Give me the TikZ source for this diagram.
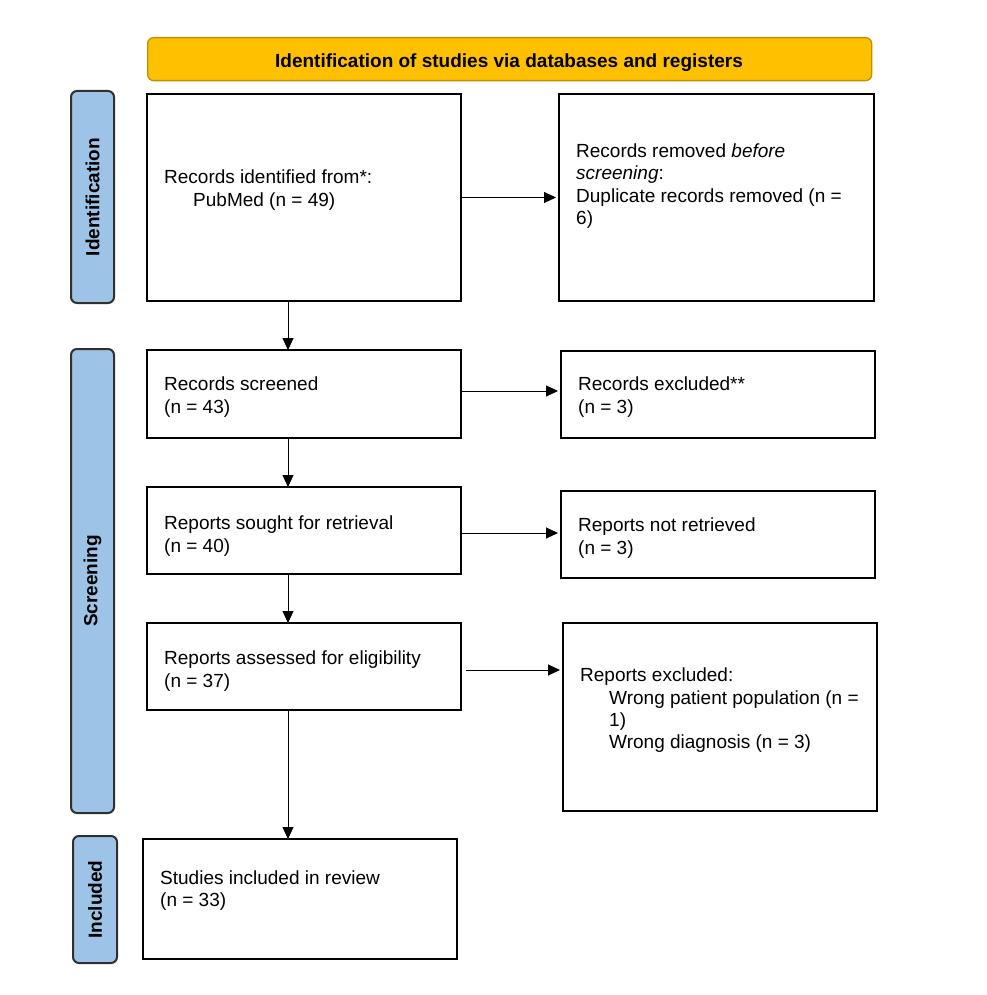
\documentclass[tikz,border=0pt]{standalone}
\usepackage{fontspec}
\setmainfont{Liberation Sans}
\usetikzlibrary{arrows.meta}
\definecolor{headfill}{HTML}{FFC000}
\definecolor{headborder}{HTML}{BF9000}
\definecolor{sideblue}{HTML}{9DC3E6}
\definecolor{sideborder}{HTML}{303030}
\begin{document}
\begin{tikzpicture}[x=1pt,y=-1pt,
  box/.style={draw=black, line width=1.3pt, fill=white, inner sep=0pt, outer sep=0pt, anchor=north west},
  txt/.style={anchor=base west, inner sep=0pt, font=\fontsize{19}{22}\selectfont},
  side/.style={draw=sideborder, line width=2pt, fill=sideblue, rounded corners=6pt, inner sep=0pt, outer sep=0pt, anchor=north west},
  sidetxt/.style={rotate=90, inner sep=0pt, font=\fontsize{19}{22}\selectfont\bfseries},
  arr/.style={-{Triangle[length=12pt,width=11pt]}, line width=1pt},
  harr/.style={arr, shorten >=3pt}
]
\useasboundingbox (0,0) rectangle (986,995);
\fill[white] (0,0) rectangle (986,995);

% header
\node[draw=headborder, fill=headfill, rounded corners=6pt, line width=1.3pt, minimum width=724pt, minimum height=43pt, anchor=north west, inner sep=0pt] (head) at (147,37) {};
\node[anchor=base, inner sep=0pt, font=\fontsize{19}{22}\selectfont\bfseries] (headt) at (509,68) {Identification of studies via databases and registers};

% side labels
\node[side, minimum width=43pt, minimum height=212pt] (sid) at (71,91) {};
\node[sidetxt] (sidt) at (sid.center) {Identification};
\node[side, minimum width=43pt, minimum height=464pt] (sscr) at (71,349) {};
\node[sidetxt] (sscrt) at (sscr.center) {Screening};
\node[side, minimum width=44pt, minimum height=127pt] (sinc) at (73,836) {};
\node[sidetxt] (sinct) at (sinc.center) {Included};

% boxes
\node[box, minimum width=314pt, minimum height=207pt] (b1) at (147,94) {};
\node[box, minimum width=315pt, minimum height=207pt] (b2) at (559,94) {};
\node[box, minimum width=314pt, minimum height=88pt] (b3) at (147,350) {};
\node[box, minimum width=314pt, minimum height=87pt] (b4) at (561,351) {};
\node[box, minimum width=314pt, minimum height=87pt] (b5) at (147,487) {};
\node[box, minimum width=314pt, minimum height=87pt] (b6) at (561,491) {};
\node[box, minimum width=314pt, minimum height=87pt] (b7) at (147,623) {};
\node[box, minimum width=314pt, minimum height=188pt] (b8) at (563,623) {};
\node[box, minimum width=314pt, minimum height=120pt] (b9) at (143,839) {};

% texts
\node[txt] (t1a) at (164,183) {Records identified from*:};
\node[txt] (t1b) at (193,206) {PubMed (n = 49)};

\node[txt] (t2a) at (576,158) {Records removed \textit{before}};
\node[txt] (t2b) at (576,180) {\textit{screening}:};
\node[txt] (t2c) at (576,202) {Duplicate records removed (n =};
\node[txt] (t2d) at (576,224) {6)};

\node[txt] (t3a) at (164,390) {Records screened};
\node[txt] (t3b) at (164,413) {(n = 43)};

\node[txt] (t4a) at (578,390) {Records excluded**};
\node[txt] (t4b) at (578,413) {(n = 3)};

\node[txt] (t5a) at (164,529) {Reports sought for retrieval};
\node[txt] (t5b) at (164,552) {(n = 40)};

\node[txt] (t6a) at (578,531) {Reports not retrieved};
\node[txt] (t6b) at (578,554) {(n = 3)};

\node[txt] (t7a) at (164,664) {Reports assessed for eligibility};
\node[txt] (t7b) at (164,687) {(n = 37)};

\node[txt] (t8a) at (580,681) {Reports excluded:};
\node[txt] (t8b) at (609,704) {Wrong patient population (n =};
\node[txt] (t8c) at (609,726) {1)};
\node[txt] (t8d) at (609,748) {Wrong diagnosis (n = 3)};

\node[txt] (t9a) at (160,884) {Studies included in review};
\node[txt] (t9b) at (160,906) {(n = 33)};

% arrows
\draw[harr] (b1.east) -- (b2.west);
\draw[harr] ([yshift=3pt]b3.east) -- ([yshift=3pt]b3.east -| b4.west);
\draw[harr] ([yshift=-2.5pt]b5.east) -- ([yshift=-2.5pt]b5.east -| b6.west);
\draw[harr] ([shift={(5pt,-3.5pt)}]b7.east) -- ([yshift=-3.5pt]b7.east -| b8.west);

\draw[arr] ([xshift=141pt]b1.south west) -- ([xshift=141pt]b3.north west);
\draw[arr] ([xshift=141pt]b3.south west) -- ([xshift=141pt]b5.north west);
\draw[arr] ([xshift=141pt]b5.south west) -- ([xshift=141pt]b7.north west);
\draw[arr] ([xshift=141pt]b7.south west) -- ([xshift=141pt]b7.south west |- b9.north);
\end{tikzpicture}
\end{document}
